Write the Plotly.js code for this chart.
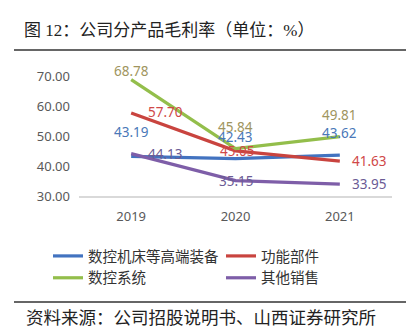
<!DOCTYPE html>
<html>
<head>
<meta charset="utf-8">
<script src="https://cdn.plot.ly/plotly-3.0.1.min.js"></script>
<style>html,body{margin:0;padding:0;background:#fff;}#chart{width:419px;height:328px;}</style>
</head>
<body>
<div id="chart"></div>
<script>
// ---- data ----
var years = ['2019', '2020', '2021'];
var seriesNames = ['数控机床等高端装备', '功能部件', '数控系统', '其他销售'];
var highEnd = [43.19, 42.43, 43.62];
var components = [57.70, 45.05, 41.63];
var cncSystem = [68.78, 45.84, 49.81];
var otherSales = [44.13, 35.15, 33.95];
var yTicks = [30, 40, 50, 60, 70];

var titleText = '图 12：公司分产品毛利率（单位：%）';
var sourceText = '资料来源：公司招股说明书、山西证券研究所';

// ---- styles ----
var seriesValues = [highEnd, components, cncSystem, otherSales];
var lineColors = ['#4273C0', '#C9443F', '#93BE4B', '#7E5EA8'];
var labelColors = ['#4A78B8', '#D04848', '#A0955E', '#6B5B95'];
// label offsets in pixels [xshift, yshift] for each point
var labelShifts = [
  [[0, 24], [0, 22], [0, 22]],
  [[34, 1], [2, 0], [30, 0]],
  [[0, 9], [0, 21], [0, 22]],
  [[34, 0], [1, 0], [30, 0]]
];

var traces = seriesValues.map(function (vals, i) {
  return {
    type: 'scatter', mode: 'lines', x: years, y: vals, name: seriesNames[i],
    line: {color: lineColors[i], width: 3.2}, hoverinfo: 'skip'
  };
});

var annotations = [];
seriesValues.forEach(function (vals, i) {
  vals.forEach(function (v, j) {
    annotations.push({
      x: j, y: v, xref: 'x', yref: 'y', text: v.toFixed(2), showarrow: false,
      xshift: labelShifts[i][j][0], yshift: labelShifts[i][j][1],
      font: {family: 'Noto Sans', size: 13.5, color: labelColors[i]}
    });
  });
});

var W = 419, H = 328;
var L = 79, R = 392, T = 61, B = 196;
function cx(x) { return x / W; }
function cy(y) { return 1 - y / H; }
function px(x) { return (x - L) / (R - L); }
function py(y) { return (B - y) / (B - T); }

annotations.push({
  xref: 'paper', yref: 'paper', x: px(24), y: py(318), xanchor: 'left', yanchor: 'middle',
  text: sourceText, showarrow: false,
  font: {family: 'Liberation Serif, Noto Sans CJK SC, sans-serif', size: 17.5, color: '#222'}
});

var shapes = [
  {type: 'line', xref: 'paper', yref: 'paper', x0: px(14), x1: px(406), y0: py(50), y1: py(50), line: {color: '#333', width: 1.5}},
  {type: 'line', xref: 'paper', yref: 'paper', x0: px(14), x1: px(406), y0: py(302), y1: py(302), line: {color: '#333', width: 1.5}}
];

var layout = {
  width: W, height: H,
  margin: {l: L, r: W - R, t: T, b: H - B, pad: 0, autoexpand: false},
  paper_bgcolor: '#fff', plot_bgcolor: '#fff',
  showlegend: true,
  title: {
    text: titleText, xref: 'container', yref: 'container', x: cx(24), xanchor: 'left',
    y: cy(30), yanchor: 'middle',
    font: {family: 'Liberation Serif, Noto Sans CJK SC, sans-serif', size: 17, color: '#222'}
  },
  xaxis: {
    type: 'category', range: [-0.5, 2.5], showgrid: false, zeroline: false,
    showline: true, linecolor: '#D9D9D9', linewidth: 1.5, ticks: '',
    ticklabelstandoff: 8,
    tickfont: {family: 'Noto Sans', size: 13, color: '#595959'}
  },
  yaxis: {
    range: [30, 75], tickvals: yTicks, ticktext: yTicks.map(function (t) { return t.toFixed(2); }),
    showgrid: false, zeroline: false, showline: false, ticks: '', ticklabelstandoff: 8,
    tickfont: {family: 'Noto Sans', size: 13, color: '#595959'}
  },
  legend: {
    orientation: 'h', xref: 'paper', yref: 'paper', x: px(48), xanchor: 'left',
    y: py(240), yanchor: 'top', entrywidth: 128, entrywidthmode: 'pixels',
    font: {family: 'Noto Sans CJK SC, sans-serif', size: 14.5, color: '#333'},
    bgcolor: 'rgba(0,0,0,0)', borderwidth: 0
  },
  annotations: annotations,
  shapes: shapes
};

Plotly.newPlot('chart', traces, layout, {staticPlot: true, displayModeBar: false});
</script>
</body>
</html>
